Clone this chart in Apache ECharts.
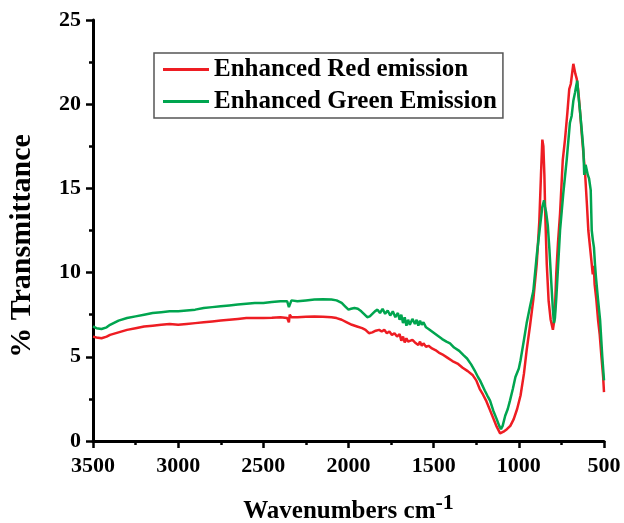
<!DOCTYPE html>
<html>
<head>
<meta charset="utf-8">
<script src="https://cdn.jsdelivr.net/npm/echarts@6/dist/echarts.min.js"></script>
<style>
  html, body { margin: 0; padding: 0; background: #fff; }
  #chart { width: 624px; height: 523px; }
</style>
</head>
<body>
<div id="chart"></div>
<script>
// 数据 - 从图中读取
const xTicks = [3500, 3000, 2500, 2000, 1500, 1000, 500]
const yTicks = [0, 5, 10, 15, 20, 25]
const seriesNames = ['Enhanced Red emission', 'Enhanced Green Emission']

const redWavenumbers = [3500, 3480, 3450, 3420, 3400, 3350, 3300, 3250, 3200, 3150, 3100, 3050, 3000, 2950, 2900, 2850, 2800, 2750, 2700, 2650, 2600, 2550, 2500, 2450, 2400, 2360, 2350, 2345, 2335, 2300, 2250, 2200, 2150, 2100, 2070, 2040, 2010, 1980, 1950, 1920, 1900, 1880, 1860, 1840, 1820, 1805, 1790, 1775, 1760, 1745, 1730, 1715, 1700, 1690, 1680, 1670, 1660, 1650, 1640, 1625, 1610, 1600, 1590, 1580, 1570, 1560, 1545, 1530, 1510, 1490, 1470, 1450, 1420, 1390, 1360, 1330, 1300, 1270, 1250, 1230, 1210, 1190, 1170, 1150, 1130, 1110, 1090, 1070, 1050, 1030, 1010, 990, 970, 954, 935, 915, 895, 880, 870, 862, 856, 850, 845, 836, 825, 813, 800, 790, 780, 770, 758, 742, 729, 715, 704, 695, 685, 680, 674, 668, 660, 651, 641, 631, 621, 611, 600, 592, 580, 572, 566, 560, 555, 545, 535, 525, 515, 505, 500]
const redValues = [6.2, 6.15, 6.1, 6.2, 6.3, 6.45, 6.6, 6.7, 6.8, 6.85, 6.9, 6.95, 6.9, 6.95, 7.0, 7.05, 7.1, 7.15, 7.2, 7.25, 7.3, 7.3, 7.3, 7.32, 7.35, 7.3, 7.05, 7.5, 7.35, 7.35, 7.38, 7.4, 7.38, 7.35, 7.3, 7.2, 7.05, 6.9, 6.8, 6.7, 6.6, 6.4, 6.45, 6.55, 6.6, 6.5, 6.6, 6.4, 6.5, 6.3, 6.4, 6.2, 6.35, 5.95, 6.2, 5.85, 6.1, 5.9, 5.8, 6.0, 5.85, 5.95, 5.7, 5.9, 5.65, 5.8, 5.6, 5.65, 5.5, 5.4, 5.25, 5.15, 4.95, 4.75, 4.6, 4.35, 4.15, 3.9, 3.6, 3.1, 2.75, 2.35, 1.85, 1.35, 0.85, 0.45, 0.55, 0.7, 0.9, 1.3, 1.9, 2.7, 4.0, 5.4, 6.8, 8.4, 10.5, 13.0, 15.8, 17.9, 17.5, 15.8, 13.5, 10.5, 8.3, 7.2, 6.6, 7.3, 10.0, 11.8, 13.5, 16.7, 17.9, 19.5, 20.9, 21.2, 22.0, 22.4, 22.3, 21.8, 21.5, 20.8, 19.6, 18.3, 17.1, 15.9, 14.0, 12.5, 11.3, 10.5, 9.9, 10.4, 9.3, 8.4, 7.2, 6.3, 5.0, 3.8, 2.9]

const greenWavenumbers = [3500, 3480, 3450, 3420, 3400, 3350, 3300, 3250, 3200, 3150, 3100, 3050, 3000, 2950, 2900, 2850, 2800, 2750, 2700, 2650, 2600, 2550, 2500, 2450, 2400, 2360, 2350, 2345, 2335, 2300, 2250, 2200, 2150, 2100, 2070, 2040, 2020, 2000, 1985, 1965, 1945, 1925, 1905, 1890, 1875, 1860, 1845, 1830, 1815, 1800, 1785, 1770, 1755, 1740, 1725, 1710, 1700, 1690, 1680, 1670, 1660, 1650, 1640, 1625, 1610, 1600, 1590, 1580, 1570, 1560, 1545, 1530, 1510, 1490, 1470, 1450, 1425, 1404, 1380, 1350, 1325, 1304, 1280, 1260, 1240, 1228, 1200, 1185, 1169, 1150, 1130, 1115, 1105, 1095, 1080, 1065, 1052, 1035, 1020, 1000, 990, 970, 954, 934, 915, 895, 876, 862, 852, 846, 840, 830, 820, 810, 800, 794, 788, 780, 770, 758, 739, 719, 700, 690, 680, 670, 663, 657, 651, 641, 631, 621, 616, 608, 602, 595, 588, 578, 572, 565, 559, 553, 547, 535, 523, 510, 500]
const greenValues = [6.8, 6.7, 6.65, 6.75, 6.9, 7.15, 7.3, 7.4, 7.5, 7.6, 7.65, 7.7, 7.7, 7.75, 7.8, 7.9, 7.95, 8.0, 8.05, 8.1, 8.15, 8.2, 8.2, 8.25, 8.3, 8.3, 7.95, 8.05, 8.35, 8.3, 8.35, 8.4, 8.42, 8.4, 8.35, 8.2, 8.0, 7.8, 7.85, 7.9, 7.85, 7.7, 7.5, 7.35, 7.4, 7.55, 7.7, 7.8, 7.6, 7.85, 7.55, 7.75, 7.45, 7.7, 7.35, 7.6, 7.2, 7.5, 7.0, 7.35, 6.85, 7.2, 6.9, 7.25, 6.95, 7.2, 6.85, 7.15, 6.9, 7.05, 6.75, 6.65, 6.5, 6.35, 6.2, 6.05, 5.9, 5.8, 5.55, 5.35, 5.1, 4.9, 4.55, 4.2, 3.8, 3.6, 3.0, 2.7, 2.4, 1.8, 1.3, 0.9, 0.7, 0.9, 1.5, 1.9, 2.4, 3.1, 3.8, 4.3, 4.8, 6.0, 7.0, 8.0, 8.9, 11.0, 12.7, 13.9, 14.3, 13.9, 13.6, 12.8, 11.3, 9.5, 7.8, 7.0, 7.3, 8.5, 10.3, 12.5, 14.7, 16.7, 18.9, 19.3, 20.2, 20.7, 21.1, 21.4, 20.6, 19.6, 18.5, 17.3, 15.8, 16.4, 16.5, 15.8, 15.6, 14.9, 12.5, 11.9, 11.5, 10.5, 9.7, 8.4, 7.2, 5.0, 3.6]

const redData = redWavenumbers.map((x, i) => [x, redValues[i]])
const greenData = greenWavenumbers.map((x, i) => [x, greenValues[i]])

const serifFont = '"Liberation Serif", "Times New Roman", serif'

const myEcharts = echarts.init(document.getElementById('chart'))
const option = {
  animation: false,
  color: ['#ee1d23', '#00a54f'],
  grid: { left: 93, right: 20, top: 20, bottom: 82, containLabel: false, outerBoundsMode: 'none' },
  // y轴标题用graphic画, 方便定位
  graphic: [{
    type: 'text',
    x: 22,
    y: 246,
    rotation: Math.PI / 2,
    style: {
      text: '% Transmittance',
      x: 0,
      y: 0,
      align: 'center',
      verticalAlign: 'middle',
      font: 'bold 30px ' + serifFont,
      fill: '#000'
    }
  }],
  legend: {
    orient: 'vertical',
    left: 154,
    top: 53,
    icon: 'rect',
    itemWidth: 46,
    itemHeight: 3,
    itemGap: 7,
    padding: [4, 6, 4, 9],
    borderColor: '#555',
    borderWidth: 1.5,
    textStyle: { fontFamily: serifFont, fontWeight: 'bold', fontSize: 25, color: '#000' },
    data: seriesNames
  },
  xAxis: {
    type: 'value',
    inverse: true,
    min: xTicks[xTicks.length - 1],
    max: xTicks[0],
    interval: 500,
    name: '{a|Wavenumbers cm}{b|-1}',
    nameLocation: 'middle',
    nameGap: 51,
    nameTextStyle: {
      rich: {
        a: { fontFamily: serifFont, fontWeight: 'bold', fontSize: 25, color: '#000', verticalAlign: 'bottom', lineHeight: 32 },
        b: { fontFamily: serifFont, fontWeight: 'bold', fontSize: 22, color: '#000', verticalAlign: 'top', lineHeight: 32, padding: [0, 0, 16, 0] }
      }
    },
    axisLine: { lineStyle: { color: '#000', width: 3 } },
    axisTick: { length: 7, lineStyle: { width: 2.5 } },
    minorTick: { show: true, splitNumber: 2, length: 4, lineStyle: { color: '#000', width: 2.5 } },
    splitLine: { show: false },
    axisLabel: {
      margin: 14,
      fontFamily: serifFont,
      fontWeight: 'bold',
      fontSize: 22,
      color: '#000',
      formatter: v => String(v)
    }
  },
  yAxis: {
    type: 'value',
    min: yTicks[0],
    max: yTicks[yTicks.length - 1],
    interval: 5,
    axisLine: { show: true, lineStyle: { color: '#000', width: 3 } },
    axisTick: { show: true, length: 7, lineStyle: { width: 2.5 } },
    minorTick: { show: true, splitNumber: 2, length: 4, lineStyle: { color: '#000', width: 2.5 } },
    splitLine: { show: false },
    axisLabel: { margin: 12, fontFamily: serifFont, fontWeight: 'bold', fontSize: 22, color: '#000' }
  },
  series: [
    {
      name: seriesNames[0],
      type: 'line',
      symbol: 'none',
      lineStyle: { width: 2.5 },
      data: redData
    },
    {
      name: seriesNames[1],
      type: 'line',
      symbol: 'none',
      lineStyle: { width: 2.5 },
      data: greenData
    }
  ]
}
myEcharts.setOption(option)
</script>
</body>
</html>
